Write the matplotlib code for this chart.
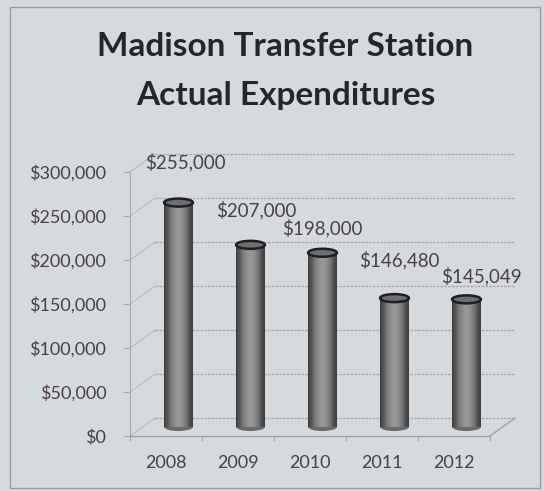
import matplotlib.pyplot as plt
import matplotlib.transforms as mtransforms
from matplotlib.patches import Ellipse, Rectangle
from matplotlib.ticker import FuncFormatter
import numpy as np

years = ['2008', '2009', '2010', '2011', '2012']
spend = [255000, 207000, 198000, 146480, 145049]
spend_labels = ['$255,000', '$207,000', '$198,000', '$146,480', '$145,049']
y_ticks = [0, 50000, 100000, 150000, 200000, 250000, 300000]
# nudges (pixels) of the value labels from the top of each cylinder
label_nudge = [(7, 41), (6, 35), (0, 25), (5, 38), (15, 23)]

plt.rcParams['font.family'] = ['Lato', 'DejaVu Sans']

W, H, DPI = 544, 491, 100
bg = '#d5dadf'
txt = '#4a4048'

fig = plt.figure(figsize=(W / DPI, H / DPI), dpi=DPI, facecolor=bg)

# outer frame
fig.add_artist(Rectangle((10 / W, 3 / H), 530 / W, 481 / H, transform=fig.transFigure,
                         fill=False, edgecolor='#9a9ea3', linewidth=1.0))

fig.text(0.525, 1 - 46 / H, 'Madison Transfer Station', ha='center', va='center',
         fontsize=24, fontweight='bold', color='#262626')
fig.text(0.525, 1 - 96 / H, 'Actual Expenditures', ha='center', va='center',
         fontsize=24, fontweight='bold', color='#262626')

# front plane of the plot area
ax = fig.add_axes([130 / W, (H - 436) / H, 360 / W, 264 / H])
ax.set_facecolor('none')
ax.set_xlim(-0.5, 4.5)
ax.set_ylim(0, 300000)
for s in ['top', 'right', 'bottom']:
    ax.spines[s].set_visible(False)
ax.spines['left'].set_color('#a8acb0')
ax.set_yticks(y_ticks)
ax.yaxis.set_major_formatter(FuncFormatter(lambda v, p: '${:,.0f}'.format(v)))
ax.tick_params(axis='y', colors='#a8acb0', labelcolor=txt, labelsize=13, length=5, pad=12)
ax.set_xticks(range(len(years)))
ax.set_xticklabels(years)
ax.tick_params(axis='x', length=0, labelcolor=txt, labelsize=13, pad=14)

# 3D offsets in pixels
dx, dy = 25, 18
back = ax.transData + mtransforms.ScaledTranslation(dx / DPI, dy / DPI, fig.dpi_scale_trans)
mid = ax.transData + mtransforms.ScaledTranslation(dx / 2 / DPI, dy / 2 / DPI, fig.dpi_scale_trans)

# back wall gridlines and left side wall
for t in y_ticks:
    ax.plot([-0.5, 4.5], [t, t], transform=back, color='#a3a7ab', lw=0.9,
            linestyle=(0, (2, 1)), clip_on=False)
    ax.plot([-0.5, -0.5 + dx / 72], [t, t + dy * 300000 / 264],
            color='#b2b6ba', lw=0.7, clip_on=False)

# floor
ax.plot([-0.5, 4.5], [0, 0], color='#9ea2a6', lw=1.0, clip_on=False)
ax.plot([4.5, 4.5 + dx / 72], [0, dy * 300000 / 264], color='#9ea2a6', lw=1.0, clip_on=False)
for i in range(6):
    ax.plot([i - 0.5, i - 0.5], [0, -5000], color='#9ea2a6', lw=0.8, clip_on=False)

# cylinders
bw = 0.4
n = 24
edges = np.linspace(-bw / 2, bw / 2, n + 1)
centers = (edges[:-1] + edges[1:]) / 2
shade = 0.17 + 0.42 * np.cos(np.linspace(-1.35, 1.35, n)) ** 1.2
ell_h = 8 * 300000 / 264
for i, v in enumerate(spend):
    for c, s in zip(centers, shade):
        ax.bar(i + c, v, width=bw / n + 0.002, color=str(s), linewidth=0,
               transform=mid, clip_on=False, zorder=3)
    ax.add_patch(Ellipse((i, 0), bw, ell_h, transform=mid, facecolor='#6a6a6c',
                         edgecolor='none', zorder=2.9, clip_on=False))
    ax.add_patch(Ellipse((i, v), bw, ell_h, transform=mid, facecolor='#6f6f72',
                         edgecolor='#1f1f22', linewidth=1.8, zorder=4, clip_on=False))
    nx, ny = label_nudge[i]
    ax.annotate(spend_labels[i], (i, v), xycoords=mid, xytext=(nx * 0.72, ny * 0.72),
                textcoords='offset points', ha='center', va='center',
                fontsize=13.5, color=txt, annotation_clip=False)

fig.savefig('out.png', dpi=DPI, facecolor=bg)
